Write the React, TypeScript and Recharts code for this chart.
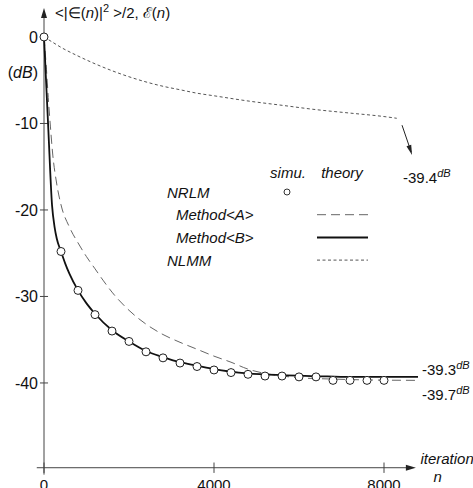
import React from 'react'
import { ComposedChart, Line, XAxis, YAxis, ReferenceLine, ReferenceDot, Legend } from 'recharts'

const FONT = '"Liberation Sans", Arial, Helvetica, sans-serif'

// NRLM simulation (circles)
const simuN = [0, 400, 800, 1200, 1600, 2000, 2400, 2800, 3200, 3600, 4000, 4400, 4800, 5200, 5600, 6000, 6400, 6800, 7200, 7600, 8000]
const simuDb = [0, -24.8, -29.3, -32.1, -34.0, -35.2, -36.4, -37.1, -37.7, -38.1, -38.5, -38.8, -39.0, -39.2, -39.2, -39.3, -39.3, -39.7, -39.7, -39.7, -39.7]

// Method<A> theory (dashed)
const methodAN = [0, 50, 100, 150, 200, 300, 400, 600, 800, 1000, 1200, 1400, 1600, 2000, 2400, 2800, 3200, 3600, 4000, 4400, 4800, 5200, 5600, 6000, 6800, 7600, 8800]
const methodADb = [0, -3.2, -7, -10.3, -13.3, -17, -19.4, -22, -23.8, -25.4, -26.8, -28.2, -29.5, -31.6, -33.2, -34.4, -35.3, -36.1, -36.9, -37.6, -38.4, -38.9, -39.2, -39.4, -39.55, -39.65, -39.7]

// Method<B> theory (solid)
const methodBN = [0, 100, 190, 250, 300, 400, 500, 600, 800, 1000, 1200, 1600, 2000, 2400, 2800, 3200, 3600, 4000, 4800, 5600, 6400, 7200, 8000, 8800]
const methodBDb = [0, -10.5, -19.5, -22, -23.3, -24.8, -26.2, -27.4, -29.3, -30.8, -32.0, -33.9, -35.2, -36.3, -37.0, -37.6, -38.0, -38.4, -38.9, -39.1, -39.2, -39.3, -39.3, -39.3]

// NLMM theory (dotted)
const nlmmN = [0, 200, 400, 800, 1200, 1600, 2000, 2400, 2800, 3200, 3600, 4000, 4800, 5600, 6400, 7200, 8000, 8300]
const nlmmDb = [0, -0.6, -1.2, -2.2, -3.1, -3.9, -4.6, -5.2, -5.7, -6.1, -6.5, -6.8, -7.4, -7.9, -8.4, -8.8, -9.2, -9.4]

const xTicks = [0, 4000, 8000]
const yTicks = [0, -10, -20, -30, -40]

const zip = (ns: number[], vs: number[]) => ns.map((n, i) => ({ n, db: vs[i] }))

const simu = zip(simuN, simuDb)
const methodA = zip(methodAN, methodADb)
const methodB = zip(methodBN, methodBDb)
const nlmm = zip(nlmmN, nlmmDb)

const AXIS = '#444'

// text anchored at a data point, shifted by a few pixels
const note = (key: string, x: number, y: number, dx: number, dy: number, body: React.ReactNode, anchor = 'start', size = 15) => (
  <ReferenceDot
    key={key}
    x={x}
    y={y}
    r={0}
    ifOverflow="visible"
    shape={(p: any) => (
      <text x={p.cx + dx} y={p.cy + dy} textAnchor={anchor} fontSize={size} fontFamily={FONT} fill="#111">
        {body}
      </text>
    )}
  />
)

const dbSup = (
  <tspan dy={-6} fontSize={11} fontStyle="italic">
    dB
  </tspan>
)

const legendRows = [
  { name: 'NRLM', kind: 'circle', indent: 7 },
  { name: 'Method<A>', kind: 'dashed', indent: 16 },
  { name: 'Method<B>', kind: 'solid', indent: 16 },
  { name: 'NLMM', kind: 'dotted', indent: 7 },
]

function LegendBox() {
  return (
    <svg width={230} height={112} style={{ fontFamily: FONT, display: 'block' }}>
      <text x={128} y={18} fontSize={15} fontStyle="italic" textAnchor="middle" fill="#111">simu.</text>
      <text x={182} y={18} fontSize={15} fontStyle="italic" textAnchor="middle" fill="#111">theory</text>
      {legendRows.map((r, i) => {
        const y = 32 + i * 22.7
        return (
          <g key={r.name}>
            <text x={r.indent} y={y + 5.5} fontSize={15} fontStyle="italic" fill="#111">{r.name}</text>
            {r.kind === 'circle' && <circle cx={127} cy={y} r={3} fill="#fff" stroke="#333" strokeWidth={1} />}
            {r.kind === 'dashed' && <line x1={157} x2={208} y1={y} y2={y} stroke="#666" strokeWidth={1} strokeDasharray="9 5" />}
            {r.kind === 'solid' && <line x1={157} x2={208} y1={y} y2={y} stroke="#111" strokeWidth={2} />}
            {r.kind === 'dotted' && <line x1={157} x2={208} y1={y} y2={y} stroke="#555" strokeWidth={1} strokeDasharray="3 2.5" />}
          </g>
        )
      })}
    </svg>
  )
}

export default function App() {
  return (
    <div style={{ position: 'absolute', left: 0, top: 0, fontFamily: FONT, background: '#fff' }}>
      <ComposedChart width={473} height={488} margin={{ top: 6.7, right: 46.5, bottom: 9.9, left: 35.5 }}>
        <XAxis type="number" dataKey="n" domain={[-200, 9000]} hide allowDataOverflow />
        <YAxis type="number" domain={[-51, 3.5]} hide allowDataOverflow />

        {/* axes */}
        <ReferenceLine segment={[{ x: 0, y: -50.6 }, { x: 0, y: 2.5 }]} stroke={AXIS} strokeWidth={1} ifOverflow="visible" />
        <ReferenceLine segment={[{ x: -170, y: -49.8 }, { x: 8600, y: -49.8 }]} stroke={AXIS} strokeWidth={1} ifOverflow="visible" />
        <ReferenceDot
          x={0}
          y={3.35}
          r={0}
          ifOverflow="visible"
          shape={(p: any) => <polygon points={`${p.cx},${p.cy} ${p.cx - 3},${p.cy + 10} ${p.cx + 3},${p.cy + 10}`} fill="#222" />}
        />
        <ReferenceDot
          x={8750}
          y={-49.8}
          r={0}
          ifOverflow="visible"
          shape={(p: any) => <polygon points={`${p.cx},${p.cy} ${p.cx - 10},${p.cy - 3} ${p.cx - 10},${p.cy + 3}`} fill="#222" />}
        />
        {yTicks.map((t) => (
          <ReferenceLine key={'yt' + t} segment={[{ x: -95, y: t }, { x: 95, y: t }]} stroke={AXIS} strokeWidth={1} ifOverflow="visible" />
        ))}
        {xTicks.map((t) => (
          <ReferenceLine key={'xt' + t} segment={[{ x: t, y: -49.2 }, { x: t, y: -50.4 }]} stroke={AXIS} strokeWidth={1} ifOverflow="visible" />
        ))}
        {yTicks.map((t) => note('yl' + t, 0, t, -6, 5.6, String(t), 'end', 16))}
        {xTicks.map((t) => note('xl' + t, t, -49.8, 0, 22, String(t), 'middle', 15))}

        {/* series */}
        <Line data={nlmm} dataKey="db" type="monotone" stroke="#555" strokeWidth={1} strokeDasharray="3 2.5" dot={false} isAnimationActive={false} />
        <Line data={methodA} dataKey="db" type="monotone" stroke="#666" strokeWidth={1} strokeDasharray="9 5" dot={false} isAnimationActive={false} />
        <Line data={methodB} dataKey="db" type="monotone" stroke="#111" strokeWidth={1.8} dot={false} isAnimationActive={false} />
        <Line
          data={simu}
          dataKey="db"
          stroke="none"
          dot={{ r: 4, fill: '#fff', stroke: '#222', strokeWidth: 1 }}
          isAnimationActive={false}
        />

        {/* annotation arrow for NLMM */}
        <ReferenceLine segment={[{ x: 8424, y: -10.2 }, { x: 8640, y: -13.3 }]} stroke="#222" strokeWidth={1} ifOverflow="visible" />
        <ReferenceDot
          x={8659}
          y={-13.64}
          r={0}
          ifOverflow="visible"
          shape={(p: any) => (
            <polygon points="0,0 -10,-2.5 -10,2.5" transform={`translate(${p.cx},${p.cy}) rotate(71.6)`} fill="#222" />
          )}
        />

        {/* texts */}
        {note('ytitle', 0, 3.35, 11, 10.5, <>{'<|∈('}<tspan fontStyle="italic">n</tspan>{')|'}<tspan dy={-6} fontSize={11}>2</tspan><tspan dy={6}>{' >/2, ℰ('}</tspan><tspan fontStyle="italic">n</tspan>{')'}</>, 'start', 15)}
        {note('ydb', 0, -4.05, -6, 5.5, <>{'('}<tspan fontStyle="italic">dB</tspan>{')'}</>, 'end', 16)}
        {note('l394', 8659, -13.64, -9, 28, <>{'-39.4'}{dbSup}</>)}
        {note('l393', 8800, -39.3, 4, -2, <>{'-39.3'}{dbSup}</>)}
        {note('l397', 8800, -39.7, 4, 19.5, <>{'-39.7'}{dbSup}</>)}
        {note('iter', 8750, -49.8, 4.5, -4, <tspan fontStyle="italic">iteration</tspan>)}
        {note('nn', 8750, -49.8, 17.5, 14.2, <tspan fontStyle="italic">n</tspan>)}

        <Legend
          layout="horizontal"
          verticalAlign="middle"
          align="center"
          wrapperStyle={{ left: 160, top: 160, width: 230, height: 112 }}
          content={() => <LegendBox />}
        />
      </ComposedChart>
    </div>
  )
}
